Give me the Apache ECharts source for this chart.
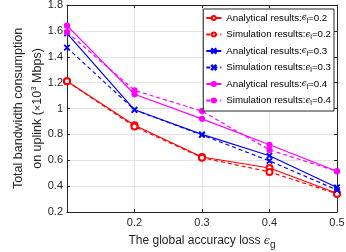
<!DOCTYPE html>
<html>
<head>
<meta charset="utf-8">
<script src="https://cdn.jsdelivr.net/npm/echarts@6/dist/echarts.min.js"></script>
<style>
  html, body { margin: 0; padding: 0; background: #fff; }
  #chart { width: 346px; height: 252px; }
</style>
</head>
<body>
<div id="chart"></div>
<script>
// ======================
// DATA
// ======================
const accuracyLoss = [0.1, 0.2, 0.3, 0.4, 0.5];
const yTicks = [0.2, 0.4, 0.6, 0.8, 1, 1.2, 1.4, 1.6, 1.8];

const analytical02 = [1.21, 0.87, 0.625, 0.54, 0.345];
const simulation02 = [1.21, 0.86, 0.62, 0.51, 0.34];
const analytical03 = [1.58, 0.99, 0.80, 0.635, 0.39];
const simulation03 = [1.47, 0.99, 0.795, 0.595, 0.37];
const analytical04 = [1.64, 1.11, 0.92, 0.72, 0.515];
const simulation04 = [1.59, 1.14, 0.98, 0.68, 0.515];

const localLoss = ['0.2', '0.2', '0.3', '0.3', '0.4', '0.4'];
const kinds = ['Analytical', 'Simulation', 'Analytical', 'Simulation', 'Analytical', 'Simulation'];

// ======================
// STYLE
// ======================
const FONT = "'Liberation Sans', Arial, sans-serif";
const AXIS_COLOR = '#262626';
const X_MARK = 'path://M0,0.8L0.8,0L5,4.2L9.2,0L10,0.8L5.8,5L10,9.2L9.2,10L5,5.8L0.8,10L0,9.2L4.2,5Z';

const seriesCfg = [
    { data: analytical02, color: '#ff0000', dash: 'solid',  symbol: 'emptyCircle', size: 6 },
    { data: simulation02, color: '#ff0000', dash: 'dashed', symbol: 'emptyCircle', size: 6 },
    { data: analytical03, color: '#0000ff', dash: 'solid',  symbol: X_MARK, size: 5 },
    { data: simulation03, color: '#0000ff', dash: 'dashed', symbol: X_MARK, size: 5 },
    { data: analytical04, color: '#ff00ff', dash: 'solid',  symbol: 'circle', size: 5 },
    { data: simulation04, color: '#ff00ff', dash: 'dashed', symbol: 'circle', size: 5 }
];

const names = kinds.map((k, i) => `${k} results:ϵl=${localLoss[i]}`);

const chart = echarts.init(document.getElementById('chart'));

const frameAxis = extra => Object.assign({
    type: 'value',
    axisLine: { show: true, lineStyle: { color: AXIS_COLOR, width: 1 } },
    axisTick: { show: true, inside: true, length: 3, lineStyle: { color: AXIS_COLOR } },
    axisLabel: { show: false },
    splitLine: { show: false }
}, extra);

const option = {
    animation: false,
    textStyle: { fontFamily: FONT },
    grid: { left: 67, right: 9, top: 5, bottom: 40, containLabel: false, outerBoundsMode: 'none' },
    legend: {
        orient: 'vertical',
        right: 12,
        top: 9,
        itemWidth: 15,
        itemHeight: 5,
        itemGap: 5,
        padding: [4, 3, 4, 2],
        backgroundColor: '#fff',
        borderColor: AXIS_COLOR,
        borderWidth: 1,
        borderRadius: 0,
        data: names,
        formatter: name => {
            const [head, tail] = name.split('ϵl');
            return `${head}{eps|ϵ}{sub|l}${tail}`;
        },
        textStyle: {
            fontFamily: FONT,
            fontSize: 9.7,
            color: '#000',
            rich: {
                eps: { fontFamily: 'DejaVu Serif', fontStyle: 'italic', fontSize: 8.5, color: '#000' },
                sub: { fontSize: 7.5, padding: [5, 0, 0, 0], color: '#000' }
            }
        }
    },
    xAxis: [
        {
            type: 'value',
            min: 0.1,
            max: 0.5,
            interval: 0.1,
            name: 'The global accuracy loss {eps|ϵ}{sub|g}',
            nameLocation: 'middle',
            nameGap: 20,
            nameMoveOverlap: false,
            nameTextStyle: {
                fontFamily: FONT,
                fontSize: 12,
                color: AXIS_COLOR,
                rich: {
                    eps: { fontFamily: 'DejaVu Serif', fontStyle: 'italic', fontSize: 11, color: AXIS_COLOR },
                    sub: { fontSize: 10, padding: [8, 0, 0, 0], color: AXIS_COLOR }
                }
            },
            axisLine: { show: true, lineStyle: { color: AXIS_COLOR, width: 1 } },
            axisTick: { show: true, inside: true, length: 3, lineStyle: { color: AXIS_COLOR } },
            axisLabel: {
                fontSize: 11,
                color: AXIS_COLOR,
                margin: 5,
                showMinLabel: false,
                formatter: v => String(Math.round(v * 10) / 10)
            },
            splitLine: { show: true, lineStyle: { color: '#e3e3e3', width: 1 } }
        },
        frameAxis({ min: 0.1, max: 0.5, interval: 0.1, position: 'top' })
    ],
    yAxis: [
        {
            type: 'value',
            min: yTicks[0],
            max: yTicks[yTicks.length - 1],
            interval: 0.2,
            name: 'Total bandwidth consumption\non uplink ({x|×}10{sup|3} Mbps)',
            nameLocation: 'middle',
            nameGap: 20,
            nameMoveOverlap: false,
            nameTextStyle: {
                fontFamily: FONT,
                fontSize: 12.5,
                color: AXIS_COLOR,
                lineHeight: 19,
                rich: {
                    x: { fontSize: 11, color: AXIS_COLOR, lineHeight: 19 },
                    sup: { fontSize: 8, padding: [0, 0, 8, 0], color: AXIS_COLOR, lineHeight: 19 }
                }
            },
            axisLine: { show: true, lineStyle: { color: AXIS_COLOR, width: 1 } },
            axisTick: { show: true, inside: true, length: 3, lineStyle: { color: AXIS_COLOR } },
            axisLabel: {
                fontSize: 11,
                color: AXIS_COLOR,
                margin: 4,
                formatter: v => String(Math.round(v * 10) / 10)
            },
            splitLine: { show: true, lineStyle: { color: '#e3e3e3', width: 1 } }
        },
        frameAxis({ min: 0.2, max: 1.8, interval: 0.2, position: 'right' })
    ],
    series: seriesCfg.map((s, i) => ({
        name: names[i],
        type: 'line',
        data: s.data.map((v, j) => [accuracyLoss[j], v]),
        symbol: s.symbol,
        symbolSize: s.size,
        showAllSymbol: true,
        lineStyle: { color: s.color, width: 1.2, type: s.dash === 'dashed' ? [4, 3] : 'solid' },
        itemStyle: { color: s.color, borderColor: s.color, borderWidth: 1.2 },
        emphasis: { disabled: true },
        z: 3
    }))
};

chart.setOption(option);
</script>
</body>
</html>
